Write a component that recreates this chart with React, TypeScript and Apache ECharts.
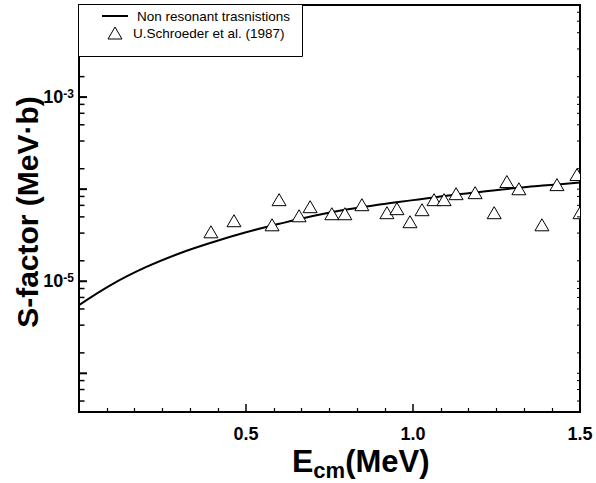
import { useEffect, useRef } from 'react';
import * as echarts from 'echarts';

// ---- data ----
const curveX = [0, 0.1, 0.2, 0.3, 0.4, 0.5, 0.6, 0.7, 0.8, 0.9, 1.0, 1.1, 1.2, 1.3, 1.4, 1.5];
const curveY = [5.5e-6, 9.3e-6, 1.42e-5, 2.0e-5, 2.65e-5, 3.4e-5, 4.2e-5, 5.1e-5, 6.0e-5, 6.8e-5, 7.6e-5, 8.5e-5, 9.3e-5, 1.02e-4, 1.1e-4, 1.18e-4];

const expX = [0.395, 0.464, 0.578, 0.599, 0.659, 0.692, 0.757, 0.796, 0.847, 0.922, 0.952, 0.991, 1.027, 1.063, 1.093, 1.129, 1.186, 1.243, 1.281, 1.317, 1.386, 1.431, 1.491, 1.5];
const expY = [3.44e-5, 4.54e-5, 4.1e-5, 7.69e-5, 5.14e-5, 6.45e-5, 5.41e-5, 5.41e-5, 6.78e-5, 5.55e-5, 6.14e-5, 4.43e-5, 5.98e-5, 7.69e-5, 7.69e-5, 8.93e-5, 9.16e-5, 5.55e-5, 1.21e-4, 1.01e-4, 4.1e-5, 1.12e-4, 1.44e-4, 5.55e-5];

const xTickLabels = ['0.5', '1.0', '1.5'];
const yLabelExponents = [-3, -5];
const yMajorTicks = [1e-6, 1e-5, 1e-4, 1e-3];
const yMinorTicks = [
  5e-7, 6.667e-7, 8.333e-7,
  1.667e-6, 3.333e-6, 5e-6, 6.667e-6, 8.333e-6,
  1.667e-5, 3.333e-5, 5e-5, 6.667e-5, 8.333e-5,
  1.667e-4, 3.333e-4, 5e-4, 6.667e-4, 8.333e-4,
  1.667e-3, 3.333e-3, 5e-3, 6.667e-3, 8.333e-3,
];

const xMin = 0;
const xMax = 1.5;
const yMin = 3.8e-7;
const yMax = 1e-2;

const seriesNames = ['Non resonant trasnistions', 'U.Schroeder et al. (1987)'];

const FONT = '"Liberation Sans", Arial, Helvetica, sans-serif';

export default function App() {
  const ref = useRef<HTMLDivElement>(null);

  useEffect(() => {
    const chart = echarts.init(ref.current!, null, { renderer: 'svg' });

    const tickData: number[][] = [
      ...yMajorTicks.map((v) => [xMin, v, 1]),
      ...yMinorTicks.map((v) => [xMin, v, 0]),
    ];

    const option: any = {
      animation: false,
      backgroundColor: '#fff',
      textStyle: { fontFamily: FONT },
      grid: {
        left: 79,
        right: 16,
        top: 5,
        bottom: 71,
        show: true,
        borderColor: '#000',
        borderWidth: 2,
        backgroundColor: 'transparent',
      },
      xAxis: {
        type: 'value',
        min: xMin,
        max: xMax,
        interval: 0.5,
        axisLine: { show: true, lineStyle: { color: '#000', width: 2 } },
        axisTick: { show: true, inside: true, length: 8, lineStyle: { color: '#000', width: 1.5 } },
        minorTick: { show: true, splitNumber: 6, length: 4, lineStyle: { color: '#000', width: 1.2 } },
        splitLine: { show: false },
        axisLabel: {
          color: '#000',
          fontSize: 18,
          fontWeight: 'bold',
          fontFamily: FONT,
          margin: 13,
          formatter: (v: number) => {
            const s = v.toFixed(1);
            return xTickLabels.includes(s) ? s : '';
          },
        },
      },
      yAxis: {
        type: 'log',
        logBase: 10,
        min: yMin,
        max: yMax,
        axisLine: { show: true, lineStyle: { color: '#000', width: 2 } },
        axisTick: { show: false },
        splitLine: { show: false },
        axisLabel: {
          margin: 5,
          formatter: (v: number) => {
            const lg = Math.log10(v);
            const e = Math.round(lg);
            if (Math.abs(lg - e) > 0.01 || !yLabelExponents.includes(e)) return '';
            return '{b|10}{s|' + e + '}';
          },
          rich: {
            b: { fontSize: 18, fontWeight: 'bold', color: '#000', fontFamily: FONT },
            s: { fontSize: 12, fontWeight: 'bold', color: '#000', fontFamily: FONT, verticalAlign: 'top', padding: [0, 0, 6, 0] },
          },
        },
      },
      series: [
        {
          name: seriesNames[0],
          type: 'line',
          data: curveX.map((x, i) => [x, curveY[i]]),
          smooth: 0.4,
          showSymbol: false,
          symbol: 'none',
          lineStyle: { color: '#000', width: 2 },
          z: 2,
          silent: true,
        },
        {
          name: seriesNames[1],
          type: 'custom',
          coordinateSystem: 'cartesian2d',
          clip: true,
          data: expX.map((x, i) => [x, expY[i]]),
          z: 3,
          silent: true,
          renderItem: (_p: any, api: any) => {
            const p = api.coord([api.value(0), api.value(1)]);
            const w = 14;
            const h = 12;
            return {
              type: 'polygon',
              shape: {
                points: [
                  [p[0], p[1] - h / 2],
                  [p[0] + w / 2, p[1] + h / 2],
                  [p[0] - w / 2, p[1] + h / 2],
                ],
              },
              style: { fill: '#fff', stroke: '#000', lineWidth: 1 },
            };
          },
        },
        {
          name: 'yticks',
          type: 'custom',
          coordinateSystem: 'cartesian2d',
          data: tickData,
          z: 4,
          silent: true,
          renderItem: (_p: any, api: any) => {
            const v = api.value(1);
            const major = api.value(2) === 1;
            const l = api.coord([xMin, v]);
            const r = api.coord([xMax, v]);
            const children: any[] = [
              {
                type: 'line',
                shape: { x1: l[0], y1: l[1], x2: l[0] + (major ? 8 : 5.5), y2: l[1] },
                style: { stroke: '#000', lineWidth: major ? 2 : 1.5 },
              },
              {
                type: 'line',
                shape: { x1: r[0] - 3, y1: r[1], x2: r[0], y2: r[1] },
                style: { stroke: '#000', lineWidth: 1 },
              },
            ];
            return { type: 'group', children };
          },
        },
      ],
      graphic: [
        // white mask right of the plot so edge triangles are cut at the frame
        {
          type: 'rect',
          z: 50,
          shape: { x: 581, y: 0, width: 15, height: 411 },
          style: { fill: '#fff' },
        },
        // legend box
        {
          type: 'rect',
          z: 100,
          shape: { x: 78.5, y: 4.5, width: 224, height: 52 },
          style: { fill: '#fff', stroke: '#000', lineWidth: 1 },
        },
        {
          type: 'line',
          z: 101,
          shape: { x1: 102, y1: 16, x2: 128, y2: 16 },
          style: { stroke: '#000', lineWidth: 2 },
        },
        {
          type: 'polygon',
          z: 101,
          shape: { points: [[115, 27], [122, 39], [108, 39]] },
          style: { fill: '#fff', stroke: '#000', lineWidth: 1 },
        },
        {
          type: 'text',
          z: 101,
          x: 137,
          y: 16,
          style: {
            text: seriesNames[0],
            font: '13.5px ' + FONT,
            fill: '#000',
            align: 'left',
            verticalAlign: 'middle',
            textAlign: 'left',
            textVerticalAlign: 'middle',
          },
        },
        {
          type: 'text',
          z: 101,
          x: 133,
          y: 33,
          style: {
            text: seriesNames[1],
            font: '13.5px ' + FONT,
            fill: '#000',
            align: 'left',
            verticalAlign: 'middle',
            textAlign: 'left',
            textVerticalAlign: 'middle',
          },
        },
        // y axis title
        {
          type: 'text',
          z: 101,
          x: 27,
          y: 212,
          rotation: Math.PI / 2,
          style: {
            text: 'S-factor (MeV·b)',
            font: 'bold 30px ' + FONT,
            fill: '#000',
            align: 'center',
            verticalAlign: 'middle',
            textAlign: 'center',
            textVerticalAlign: 'middle',
          },
        },
        // x axis title
        {
          type: 'text',
          z: 101,
          x: 292,
          y: 461,
          style: {
            text: '{e|E}{c|cm}{m|(MeV)}',
            fill: '#000',
            align: 'left',
            verticalAlign: 'middle',
            textAlign: 'left',
            textVerticalAlign: 'middle',
            rich: {
              e: { fontSize: 32, fontWeight: 'bold', fontFamily: FONT, fill: '#000', lineHeight: 40, verticalAlign: 'middle' },
              c: { fontSize: 22, fontWeight: 'bold', fontFamily: FONT, fill: '#000', lineHeight: 26, verticalAlign: 'bottom' },
              m: { fontSize: 31, fontWeight: 'bold', fontFamily: FONT, fill: '#000', lineHeight: 40, verticalAlign: 'middle' },
            },
          },
        },
      ],
    };

    chart.setOption(option);
    return () => chart.dispose();
  }, []);

  return (
    <div
      ref={ref}
      style={{ position: 'fixed', left: 0, top: 0, width: 596, height: 483 }}
    />
  );
}
